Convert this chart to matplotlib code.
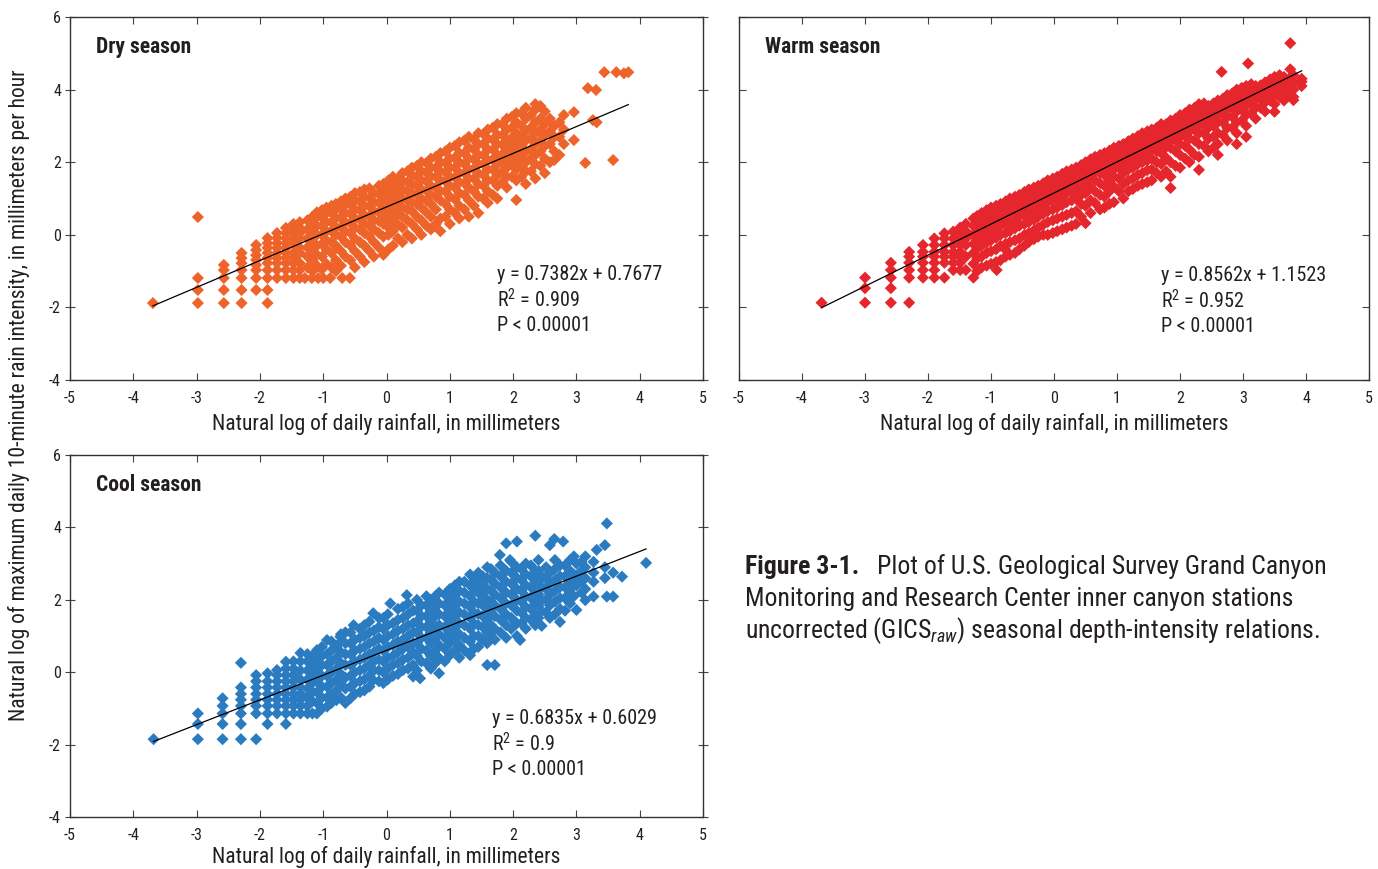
import numpy as np
import matplotlib
matplotlib.use('Agg')
import matplotlib.pyplot as plt

plt.rcParams['font.family'] = ['Roboto Condensed', 'Liberation Sans Narrow', 'Roboto', 'DejaVu Sans']
plt.rcParams['axes.unicode_minus'] = False
plt.rcParams['mathtext.fontset'] = 'custom'
plt.rcParams['mathtext.rm'] = 'Roboto Condensed'
plt.rcParams['mathtext.it'] = 'Roboto Condensed:italic'

# ln(daily rainfall) , ln(max 10-min intensity)
dry_pts = [
    (-3.69, -1.88),
    (-2.98, -1.88), (-2.98, -1.52), (-2.98, -1.19), (-2.98, 0.49),
    (-2.57, -1.88), (-2.57, -1.52), (-2.57, -1.19), (-2.57, -0.97), (-2.57, -0.83),
    (-2.29, -1.88), (-2.29, -1.52), (-2.29, -1.19), (-2.29, -0.97), (-2.29, -0.78), (-2.29, -0.64), (-2.29, -0.50),
    (-2.06, -1.52), (-2.06, -1.19), (-2.06, -0.97), (-2.06, -0.83), (-2.06, -0.69), (-2.06, -0.56), (-2.06, -0.42), (-2.06, -0.28),
    (-1.88, -1.88), (-1.88, -1.52), (-1.88, -1.19), (-1.88, -0.97), (-1.88, -0.78), (-1.88, -0.64), (-1.88, -0.50), (-1.88, -0.36), (-1.88, -0.23), (-1.88, -0.09),
    (-1.73, -1.19), (-1.73, -0.97), (-1.73, -0.78), (-1.73, -0.64), (-1.73, -0.50), (-1.73, -0.36), (-1.73, -0.23), (-1.73, -0.09), (-1.73, 0.05),
    (-1.59, -1.19), (-1.59, -0.97), (-1.59, -0.78), (-1.59, -0.64), (-1.59, -0.50), (-1.59, -0.36), (-1.59, -0.23), (-1.59, -0.09), (-1.59, 0.05), (-1.59, 0.19),
    (-1.47, -1.19), (-1.47, -0.97), (-1.47, -0.78), (-1.47, -0.64), (-1.47, -0.50), (-1.47, -0.23), (-1.47, -0.09), (-1.47, 0.05), (-1.47, 0.19), (-1.47, 0.30),
    (-1.37, -1.19), (-1.37, -0.97), (-1.37, -0.78), (-1.37, -0.50), (-1.37, -0.36), (-1.37, -0.09), (-1.37, 0.05), (-1.37, 0.19), (-1.37, 0.35),
    (-1.29, -1.19), (-1.18, -1.19), (-1.08, -1.19), (-1.00, -1.19), (-0.89, -1.19), (-0.70, -1.19), (-0.58, -1.19),
    (-1.25, -0.90), (-1.25, -0.60), (-1.25, -0.35), (-1.25, -0.10), (-1.25, 0.15), (-1.25, 0.40),
    (-1.10, -0.85), (-1.10, -0.55), (-1.10, -0.30), (-1.10, 0.00), (-1.10, 0.25), (-1.10, 0.50), (-1.10, 0.62),
    (-0.95, -0.80), (-0.95, -0.40), (-0.95, -0.15), (-0.95, 0.10), (-0.95, 0.35), (-0.95, 0.60), (-0.95, 0.75),
    (-0.80, -1.00), (-0.80, -0.70), (-0.80, -0.30), (-0.80, 0.00), (-0.80, 0.20), (-0.80, 0.45), (-0.80, 0.70), (-0.80, 0.85),
    (-0.65, -0.60), (-0.65, -0.20), (-0.65, 0.10), (-0.65, 0.35), (-0.65, 0.60), (-0.65, 0.85), (-0.65, 1.00),
    (-0.50, -0.90), (-0.50, -0.45), (-0.50, -0.10), (-0.50, 0.20), (-0.50, 0.45), (-0.50, 0.70), (-0.50, 0.95), (-0.50, 1.15),
    (-0.35, -0.75), (-0.35, -0.30), (-0.35, 0.05), (-0.35, 0.30), (-0.35, 0.55), (-0.35, 0.80), (-0.35, 1.05), (-0.35, 1.25),
    (-0.20, -0.60), (-0.20, -0.20), (-0.20, 0.15), (-0.20, 0.40), (-0.20, 0.65), (-0.20, 0.90), (-0.20, 1.15),
    (-0.05, -0.55), (-0.05, -0.05), (-0.05, 0.30), (-0.05, 0.55), (-0.05, 0.80), (-0.05, 1.05), (-0.05, 1.30), (-0.05, 1.40),
    (0.10, -0.30), (0.10, 0.10), (0.10, 0.40), (0.10, 0.65), (0.10, 0.90), (0.10, 1.15), (0.10, 1.40), (0.10, 1.60),
    (0.25, -0.20), (0.25, 0.20), (0.25, 0.50), (0.25, 0.75), (0.25, 1.00), (0.25, 1.25), (0.25, 1.50), (0.25, 1.70),
    (0.40, -0.10), (0.40, 0.30), (0.40, 0.65), (0.40, 0.90), (0.40, 1.15), (0.40, 1.40), (0.40, 1.65), (0.40, 1.85),
    (0.55, 0.00), (0.55, 0.40), (0.55, 0.75), (0.55, 1.00), (0.55, 1.25), (0.55, 1.50), (0.55, 1.75), (0.55, 2.00),
    (0.70, 0.15), (0.70, 0.50), (0.70, 0.85), (0.70, 1.10), (0.70, 1.35), (0.70, 1.60), (0.70, 1.85), (0.70, 2.10),
    (0.85, 0.10), (0.85, 0.45), (0.85, 0.95), (0.85, 1.20), (0.85, 1.50), (0.85, 1.75), (0.85, 2.00), (0.85, 2.25),
    (1.00, 0.30), (1.00, 0.70), (1.00, 1.05), (1.00, 1.35), (1.00, 1.60), (1.00, 1.85), (1.00, 2.10), (1.00, 2.40),
    (1.15, 0.45), (1.15, 0.80), (1.15, 1.15), (1.15, 1.45), (1.15, 1.70), (1.15, 2.00), (1.15, 2.25), (1.15, 2.55),
    (1.30, 0.50), (1.30, 0.95), (1.30, 1.30), (1.30, 1.55), (1.30, 1.80), (1.30, 2.10), (1.30, 2.40), (1.30, 2.70),
    (1.45, 0.60), (1.45, 1.05), (1.45, 1.40), (1.45, 1.70), (1.45, 1.95), (1.45, 2.20), (1.45, 2.50), (1.45, 2.80),
    (1.60, 0.88), (1.60, 1.20), (1.60, 1.50), (1.60, 1.80), (1.60, 2.05), (1.60, 2.35), (1.60, 2.65), (1.60, 2.90),
    (1.75, 1.00), (1.75, 1.35), (1.75, 1.65), (1.75, 1.95), (1.75, 2.20), (1.75, 2.50), (1.75, 2.75), (1.75, 3.05),
    (1.90, 1.30), (1.90, 1.60), (1.90, 1.85), (1.90, 2.10), (1.90, 2.35), (1.90, 2.60), (1.90, 2.90), (1.90, 3.20),
    (2.05, 0.96), (2.05, 1.50), (2.05, 1.80), (2.05, 2.05), (2.05, 2.30), (2.05, 2.55), (2.05, 2.80), (2.05, 3.10), (2.05, 3.35),
    (2.20, 1.40), (2.20, 1.75), (2.20, 2.00), (2.20, 2.30), (2.20, 2.60), (2.20, 2.85), (2.20, 3.20), (2.20, 3.50),
    (2.35, 1.55), (2.35, 1.95), (2.35, 2.20), (2.35, 2.50), (2.35, 2.80), (2.35, 3.10), (2.35, 3.45), (2.35, 3.60),
    (2.50, 1.70), (2.50, 2.10), (2.50, 2.45), (2.50, 2.75), (2.50, 3.05), (2.50, 3.40),
    (2.65, 2.06), (2.65, 2.30), (2.65, 2.70), (2.65, 3.00),
    (2.80, 2.50), (2.80, 2.90), (2.80, 3.30),
    (2.96, 2.61), (2.96, 3.38), (3.14, 1.98), (3.26, 3.16), (3.32, 3.10), (3.18, 4.04), (3.31, 3.99),
    (3.44, 4.48), (3.63, 4.48), (3.75, 4.45), (3.82, 4.48), (3.58, 2.06),
    # in between the columns above
    (-1.17, -1.00), (-1.17, -0.72), (-1.17, -0.45), (-1.17, -0.20), (-1.17, 0.05), (-1.17, 0.30), (-1.17, 0.50),
    (-1.02, -0.95), (-1.02, -0.60), (-1.02, -0.25), (-1.02, 0.00), (-1.02, 0.25), (-1.02, 0.48), (-1.02, 0.68),
    (-0.87, -0.90), (-0.87, -0.50), (-0.87, -0.20), (-0.87, 0.10), (-0.87, 0.35), (-0.87, 0.60), (-0.87, 0.80),
    (-0.72, -0.85), (-0.72, -0.45), (-0.72, -0.05), (-0.72, 0.22), (-0.72, 0.48), (-0.72, 0.72), (-0.72, 0.92),
    (-0.57, -0.70), (-0.57, -0.30), (-0.57, 0.05), (-0.57, 0.32), (-0.57, 0.58), (-0.57, 0.82), (-0.57, 1.05),
    (-0.42, -0.60), (-0.42, -0.20), (-0.42, 0.15), (-0.42, 0.42), (-0.42, 0.68), (-0.42, 0.92), (-0.42, 1.18),
    (-0.27, -0.45), (-0.27, -0.05), (-0.27, 0.25), (-0.27, 0.50), (-0.27, 0.78), (-0.27, 1.02), (-0.27, 1.28),
    (-0.12, -0.35), (-0.12, 0.05), (-0.12, 0.38), (-0.12, 0.62), (-0.12, 0.88), (-0.12, 1.12), (-0.12, 1.35),
    (0.03, -0.40), (0.03, 0.00), (0.03, 0.20), (0.03, 0.48), (0.03, 0.72), (0.03, 0.98), (0.03, 1.22), (0.03, 1.50),
    (0.18, -0.10), (0.18, 0.28), (0.18, 0.58), (0.18, 0.82), (0.18, 1.08), (0.18, 1.32), (0.18, 1.55),
    (0.33, 0.00), (0.33, 0.40), (0.33, 0.70), (0.33, 0.95), (0.33, 1.20), (0.33, 1.45), (0.33, 1.75),
    (0.48, 0.15), (0.48, 0.50), (0.48, 0.85), (0.48, 1.10), (0.48, 1.35), (0.48, 1.60), (0.48, 1.90),
    (0.63, 0.25), (0.63, 0.62), (0.63, 0.95), (0.63, 1.22), (0.63, 1.48), (0.63, 1.72), (0.63, 1.98),
    (0.78, 0.30), (0.78, 0.70), (0.78, 1.05), (0.78, 1.30), (0.78, 1.60), (0.78, 1.85), (0.78, 2.15),
    (0.93, 0.50), (0.93, 0.85), (0.93, 1.20), (0.93, 1.48), (0.93, 1.72), (0.93, 1.98), (0.93, 2.30),
    (1.08, 0.60), (1.08, 0.98), (1.08, 1.30), (1.08, 1.58), (1.08, 1.85), (1.08, 2.12), (1.08, 2.45),
    (1.23, 0.70), (1.23, 1.10), (1.23, 1.42), (1.23, 1.70), (1.23, 1.95), (1.23, 2.25), (1.23, 2.60),
    (1.38, 0.80), (1.38, 1.20), (1.38, 1.55), (1.38, 1.82), (1.38, 2.08), (1.38, 2.35), (1.38, 2.62),
    (1.53, 1.00), (1.53, 1.35), (1.53, 1.65), (1.53, 1.95), (1.53, 2.20), (1.53, 2.50), (1.53, 2.78),
    (1.68, 1.10), (1.68, 1.50), (1.68, 1.80), (1.68, 2.08), (1.68, 2.35), (1.68, 2.62), (1.68, 2.95),
    (1.83, 1.45), (1.83, 1.75), (1.83, 2.00), (1.83, 2.22), (1.83, 2.48), (1.83, 2.75), (1.83, 3.05),
    (1.98, 1.60), (1.98, 1.95), (1.98, 2.18), (1.98, 2.42), (1.98, 2.68), (1.98, 2.95), (1.98, 3.25),
    (2.13, 1.60), (2.13, 1.90), (2.13, 2.15), (2.13, 2.45), (2.13, 2.72), (2.13, 3.00), (2.13, 3.35),
    (2.28, 1.75), (2.28, 2.10), (2.28, 2.35), (2.28, 2.65), (2.28, 2.95), (2.28, 3.30),
    (2.43, 1.90), (2.43, 2.30), (2.43, 2.60), (2.43, 2.90), (2.43, 3.20), (2.43, 3.55),
    (2.58, 2.00), (2.58, 2.50), (2.58, 2.85), (2.58, 3.20),
    (2.73, 2.20), (2.73, 2.70), (2.73, 3.10),
]

warm_pts = [
    (-3.69, -1.87),
    (-3.00, -1.87), (-3.00, -1.47), (-3.00, -1.18),
    (-2.59, -1.87), (-2.59, -1.47), (-2.59, -1.18), (-2.59, -0.97), (-2.59, -0.77),
    (-2.30, -1.87), (-2.30, -1.18), (-2.30, -0.97), (-2.30, -0.77), (-2.30, -0.60), (-2.30, -0.47),
    (-2.08, -1.18), (-2.08, -0.97), (-2.08, -0.77), (-2.08, -0.60), (-2.08, -0.47), (-2.08, -0.28),
    (-1.90, -1.18), (-1.90, -0.97), (-1.90, -0.77), (-1.90, -0.60), (-1.90, -0.47), (-1.90, -0.28), (-1.90, -0.10),
    (-1.74, -1.18), (-1.74, -0.77), (-1.74, -0.60), (-1.74, -0.47), (-1.74, -0.28), (-1.74, -0.10), (-1.74, 0.04),
    (-1.60, -0.97), (-1.60, -0.77), (-1.60, -0.60), (-1.60, -0.47), (-1.60, -0.28), (-1.60, -0.10), (-1.60, 0.09),
    (-1.49, -0.97), (-1.49, -0.77), (-1.49, -0.60), (-1.49, -0.47), (-1.49, -0.28), (-1.49, -0.10), (-1.49, 0.04), (-1.49, 0.20),
    (-1.40, -0.97), (-1.40, -0.60), (-1.40, -0.28), (-1.40, -0.10), (-1.40, 0.10), (-1.40, 0.30),
    (-1.28, -1.18), (-1.28, -0.80), (-1.28, -0.50), (-1.28, -0.25), (-1.28, 0.00), (-1.28, 0.25), (-1.28, 0.45),
    (-1.15, -0.90), (-1.15, -0.60), (-1.15, -0.30), (-1.15, -0.05), (-1.15, 0.20), (-1.15, 0.45), (-1.15, 0.60),
    (-0.91, -0.97), (-0.78, -0.39),
    (-1.00, -0.80), (-1.00, -0.45), (-1.00, -0.15), (-1.00, 0.10), (-1.00, 0.35), (-1.00, 0.55), (-1.00, 0.75),
    (-0.85, -0.70), (-0.85, -0.30), (-0.85, 0.00), (-0.85, 0.25), (-0.85, 0.45), (-0.85, 0.70), (-0.85, 0.85),
    (-0.70, -0.55), (-0.70, -0.20), (-0.70, 0.10), (-0.70, 0.35), (-0.70, 0.60), (-0.70, 0.80), (-0.70, 1.00),
    (-0.55, -0.40), (-0.55, -0.10), (-0.55, 0.25), (-0.55, 0.50), (-0.55, 0.70), (-0.55, 0.95), (-0.55, 1.10),
    (-0.40, -0.20), (-0.40, 0.05), (-0.40, 0.35), (-0.40, 0.60), (-0.40, 0.85), (-0.40, 1.05), (-0.40, 1.25),
    (-0.25, -0.05), (-0.25, 0.20), (-0.25, 0.50), (-0.25, 0.75), (-0.25, 1.00), (-0.25, 1.20), (-0.25, 1.35),
    (-0.10, 0.00), (-0.10, 0.35), (-0.10, 0.65), (-0.10, 0.90), (-0.10, 1.10), (-0.10, 1.30), (-0.10, 1.50),
    (0.05, 0.10), (0.05, 0.45), (0.05, 0.75), (0.05, 1.00), (0.05, 1.25), (0.05, 1.45), (0.05, 1.60),
    (0.20, 0.20), (0.20, 0.55), (0.20, 0.90), (0.20, 1.15), (0.20, 1.35), (0.20, 1.55), (0.20, 1.75),
    (0.35, 0.30), (0.35, 0.65), (0.35, 1.00), (0.35, 1.25), (0.35, 1.50), (0.35, 1.70), (0.35, 1.85),
    (0.50, 0.32), (0.50, 0.80), (0.50, 1.15), (0.50, 1.40), (0.50, 1.60), (0.50, 1.80), (0.50, 2.00),
    (0.65, 0.88), (0.65, 1.20), (0.65, 1.50), (0.65, 1.75), (0.65, 1.95), (0.65, 2.15),
    (0.80, 0.75), (0.80, 1.05), (0.80, 1.35), (0.80, 1.65), (0.80, 1.85), (0.80, 2.05), (0.80, 2.25),
    (0.95, 0.90), (0.95, 1.33), (0.95, 1.60), (0.95, 1.80), (0.95, 2.00), (0.95, 2.20), (0.95, 2.40),
    (1.10, 1.00), (1.10, 1.40), (1.10, 1.70), (1.10, 1.95), (1.10, 2.15), (1.10, 2.35), (1.10, 2.50),
    (1.25, 1.26), (1.25, 1.55), (1.25, 1.85), (1.25, 2.05), (1.25, 2.25), (1.25, 2.45), (1.25, 2.65),
    (1.40, 1.40), (1.40, 1.70), (1.40, 2.00), (1.40, 2.20), (1.40, 2.40), (1.40, 2.60), (1.40, 2.80),
    (1.55, 1.50), (1.55, 1.80), (1.55, 2.10), (1.55, 2.35), (1.55, 2.55), (1.55, 2.75), (1.55, 2.90),
    (1.70, 1.60), (1.70, 1.95), (1.70, 2.25), (1.70, 2.45), (1.70, 2.65), (1.70, 2.85), (1.70, 3.05),
    (1.85, 1.29), (1.85, 1.60), (1.85, 2.00), (1.85, 2.40), (1.85, 2.60), (1.85, 2.80), (1.85, 3.00), (1.85, 3.15),
    (2.00, 1.85), (2.00, 2.20), (2.00, 2.50), (2.00, 2.70), (2.00, 2.90), (2.00, 3.10), (2.00, 3.30),
    (2.15, 2.00), (2.15, 2.35), (2.15, 2.65), (2.15, 2.85), (2.15, 3.05), (2.15, 3.25), (2.15, 3.45),
    (2.30, 1.79), (2.30, 2.15), (2.30, 2.50), (2.30, 2.80), (2.30, 3.00), (2.30, 3.20), (2.30, 3.40), (2.30, 3.60),
    (2.45, 2.30), (2.45, 2.65), (2.45, 2.95), (2.45, 3.15), (2.45, 3.35), (2.45, 3.55),
    (2.60, 2.20), (2.60, 2.50), (2.60, 2.80), (2.60, 3.10), (2.60, 3.30), (2.60, 3.50), (2.60, 3.70),
    (2.75, 2.60), (2.75, 2.95), (2.75, 3.25), (2.75, 3.45), (2.75, 3.65), (2.75, 3.85),
    (2.90, 2.50), (2.90, 2.80), (2.90, 3.10), (2.90, 3.40), (2.90, 3.60), (2.90, 3.80), (2.90, 4.00),
    (3.05, 2.70), (3.05, 3.00), (3.05, 3.30), (3.05, 3.55), (3.05, 3.75), (3.05, 3.95), (3.05, 4.10),
    (3.20, 3.20), (3.20, 3.50), (3.20, 3.70), (3.20, 3.90), (3.20, 4.10),
    (3.35, 3.40), (3.35, 3.65), (3.35, 3.85), (3.35, 4.05), (3.35, 4.20),
    (3.50, 3.39), (3.50, 3.60), (3.50, 3.85), (3.50, 4.00), (3.50, 4.20), (3.50, 4.35),
    (3.65, 3.70), (3.65, 3.95), (3.65, 4.15), (3.65, 4.35),
    (3.80, 3.71), (3.80, 3.80), (3.80, 4.00), (3.80, 4.20), (3.80, 4.40),
    (3.93, 4.22), (3.93, 4.10), (3.93, 4.30),
    (3.75, 5.28), (3.08, 4.72), (2.66, 4.49), (3.75, 4.56),
    # in between the columns above
    (-1.22, -1.00), (-1.22, -0.65), (-1.22, -0.38), (-1.22, -0.12), (-1.22, 0.12), (-1.22, 0.35), (-1.22, 0.52),
    (-1.07, -0.85), (-1.07, -0.50), (-1.07, -0.22), (-1.07, 0.05), (-1.07, 0.28), (-1.07, 0.50), (-1.07, 0.68),
    (-0.92, -0.75), (-0.92, -0.40), (-0.92, -0.08), (-0.92, 0.18), (-0.92, 0.40), (-0.92, 0.62), (-0.92, 0.80),
    (-0.77, -0.60), (-0.77, -0.25), (-0.77, 0.05), (-0.77, 0.30), (-0.77, 0.52), (-0.77, 0.75), (-0.77, 0.92),
    (-0.62, -0.50), (-0.62, -0.15), (-0.62, 0.18), (-0.62, 0.42), (-0.62, 0.65), (-0.62, 0.88), (-0.62, 1.05),
    (-0.47, -0.30), (-0.47, 0.00), (-0.47, 0.30), (-0.47, 0.55), (-0.47, 0.78), (-0.47, 1.00), (-0.47, 1.18),
    (-0.32, -0.12), (-0.32, 0.12), (-0.32, 0.42), (-0.32, 0.68), (-0.32, 0.92), (-0.32, 1.12), (-0.32, 1.30),
    (-0.17, 0.00), (-0.17, 0.28), (-0.17, 0.58), (-0.17, 0.82), (-0.17, 1.05), (-0.17, 1.25), (-0.17, 1.42),
    (-0.02, 0.05), (-0.02, 0.40), (-0.02, 0.70), (-0.02, 0.95), (-0.02, 1.18), (-0.02, 1.38), (-0.02, 1.55),
    (0.13, 0.15), (0.13, 0.50), (0.13, 0.82), (0.13, 1.08), (0.13, 1.30), (0.13, 1.50), (0.13, 1.68),
    (0.28, 0.25), (0.28, 0.60), (0.28, 0.95), (0.28, 1.20), (0.28, 1.42), (0.28, 1.62), (0.28, 1.80),
    (0.43, 0.50), (0.43, 0.85), (0.43, 1.10), (0.43, 1.35), (0.43, 1.55), (0.43, 1.75), (0.43, 1.92),
    (0.58, 0.60), (0.58, 0.95), (0.58, 1.30), (0.58, 1.55), (0.58, 1.75), (0.58, 1.95), (0.58, 2.08),
    (0.73, 0.70), (0.73, 1.10), (0.73, 1.42), (0.73, 1.70), (0.73, 1.90), (0.73, 2.10), (0.73, 2.20),
    (0.88, 0.85), (0.88, 1.20), (0.88, 1.50), (0.88, 1.75), (0.88, 1.95), (0.88, 2.15), (0.88, 2.32),
    (1.03, 1.20), (1.03, 1.55), (1.03, 1.85), (1.03, 2.05), (1.03, 2.25), (1.03, 2.45),
    (1.18, 1.20), (1.18, 1.50), (1.18, 1.80), (1.18, 2.02), (1.18, 2.22), (1.18, 2.42), (1.18, 2.58),
    (1.33, 1.35), (1.33, 1.65), (1.33, 1.95), (1.33, 2.15), (1.33, 2.35), (1.33, 2.55), (1.33, 2.72),
    (1.48, 1.45), (1.48, 1.78), (1.48, 2.05), (1.48, 2.30), (1.48, 2.50), (1.48, 2.68), (1.48, 2.85),
    (1.63, 1.70), (1.63, 2.00), (1.63, 2.30), (1.63, 2.52), (1.63, 2.72), (1.63, 2.95),
    (1.78, 1.75), (1.78, 2.12), (1.78, 2.42), (1.78, 2.62), (1.78, 2.82), (1.78, 3.05),
    (1.93, 1.90), (1.93, 2.30), (1.93, 2.60), (1.93, 2.80), (1.93, 3.00), (1.93, 3.20),
    (2.08, 2.10), (2.08, 2.45), (2.08, 2.72), (2.08, 2.95), (2.08, 3.15), (2.08, 3.35),
    (2.23, 2.20), (2.23, 2.60), (2.23, 2.90), (2.23, 3.12), (2.23, 3.32), (2.23, 3.50),
    (2.38, 2.45), (2.38, 2.80), (2.38, 3.05), (2.38, 3.25), (2.38, 3.45), (2.38, 3.62),
    (2.53, 2.40), (2.53, 2.70), (2.53, 3.00), (2.53, 3.22), (2.53, 3.42), (2.53, 3.62),
    (2.68, 2.75), (2.68, 3.10), (2.68, 3.35), (2.68, 3.55), (2.68, 3.75),
    (2.83, 2.95), (2.83, 3.25), (2.83, 3.50), (2.83, 3.70), (2.83, 3.90),
    (2.98, 3.15), (2.98, 3.45), (2.98, 3.65), (2.98, 3.85), (2.98, 4.05),
    (3.13, 3.35), (3.13, 3.60), (3.13, 3.80), (3.13, 4.00), (3.13, 4.15),
    (3.28, 3.50), (3.28, 3.75), (3.28, 3.95), (3.28, 4.12),
    (3.43, 3.70), (3.43, 3.95), (3.43, 4.10), (3.43, 4.28),
    (3.58, 3.80), (3.58, 4.05), (3.58, 4.25), (3.58, 4.40),
    (3.73, 3.85), (3.73, 4.10), (3.73, 4.30),
]

cool_pts = [
    (-3.68, -1.85),
    (-2.98, -1.85), (-2.98, -1.43), (-2.98, -1.14),
    (-2.59, -1.85), (-2.59, -1.43), (-2.59, -1.14), (-2.59, -0.93), (-2.59, -0.72),
    (-2.30, -1.85), (-2.30, -1.43), (-2.30, -1.14), (-2.30, -0.93), (-2.30, -0.76), (-2.30, -0.60), (-2.30, -0.42), (-2.30, 0.26),
    (-2.06, -1.85), (-2.06, -1.14), (-2.06, -0.93), (-2.06, -0.76), (-2.06, -0.60), (-2.06, -0.42), (-2.06, -0.25), (-2.06, -0.08),
    (-1.88, -1.43), (-1.88, -1.14), (-1.88, -0.93), (-1.88, -0.76), (-1.88, -0.60), (-1.88, -0.42), (-1.88, -0.25), (-1.88, -0.03),
    (-1.73, -1.14), (-1.73, -0.93), (-1.73, -0.76), (-1.73, -0.60), (-1.73, -0.42), (-1.73, -0.25), (-1.73, -0.08), (-1.73, 0.06),
    (-1.59, -1.43), (-1.59, -1.14), (-1.59, -0.93), (-1.59, -0.76), (-1.59, -0.60), (-1.59, -0.42), (-1.59, -0.25), (-1.59, -0.08), (-1.59, 0.10), (-1.59, 0.29),
    (-1.47, -1.14), (-1.47, -0.93), (-1.47, -0.76), (-1.47, -0.60), (-1.47, -0.42), (-1.47, -0.25), (-1.47, -0.08), (-1.47, 0.10), (-1.47, 0.30),
    (-1.36, -1.14), (-1.36, -0.93), (-1.36, -0.76), (-1.36, -0.60), (-1.36, -0.42), (-1.36, -0.20), (-1.36, 0.05), (-1.36, 0.30), (-1.36, 0.53),
    (-1.25, -1.14), (-1.25, -0.93), (-1.25, -0.70), (-1.25, -0.45), (-1.25, -0.20), (-1.25, 0.05), (-1.25, 0.30), (-1.25, 0.50),
    (-1.17, -1.14), (-1.17, -0.80), (-1.17, -0.55), (-1.17, -0.30), (-1.17, -0.05), (-1.17, 0.20), (-1.17, 0.45),
    (-1.10, -1.14), (-1.10, -0.85), (-1.10, -0.55), (-1.10, -0.25), (-1.10, 0.05), (-1.10, 0.35), (-1.10, 0.61),
    (-0.94, -0.95), (-0.94, -0.70), (-0.94, -0.40), (-0.94, -0.10), (-0.94, 0.20), (-0.94, 0.50), (-0.94, 0.89),
    (-0.79, -0.77), (-0.79, -0.50), (-0.79, -0.20), (-0.79, 0.10), (-0.79, 0.40), (-0.79, 0.70), (-0.73, 0.98),
    (-0.65, -0.85), (-0.65, -0.45), (-0.65, -0.15), (-0.65, 0.20), (-0.65, 0.50), (-0.65, 0.80), (-0.65, 1.10),
    (-0.50, -0.60), (-0.50, -0.30), (-0.50, 0.00), (-0.50, 0.30), (-0.50, 0.60), (-0.50, 0.90), (-0.52, 1.30),
    (-0.35, -0.50), (-0.35, -0.20), (-0.35, 0.10), (-0.35, 0.40), (-0.35, 0.70), (-0.35, 1.00), (-0.35, 1.30),
    (-0.21, -0.22), (-0.20, 0.05), (-0.20, 0.30), (-0.20, 0.55), (-0.20, 0.85), (-0.20, 1.15), (-0.21, 1.63),
    (-0.05, -0.30), (-0.05, 0.00), (-0.05, 0.30), (-0.05, 0.60), (-0.05, 0.90), (-0.05, 1.20), (-0.05, 1.50),
    (0.10, -0.10), (0.10, 0.20), (0.10, 0.45), (0.10, 0.75), (0.10, 1.05), (0.10, 1.35), (0.06, 1.90),
    (0.26, 0.06), (0.26, 0.35), (0.26, 0.65), (0.26, 0.90), (0.26, 1.20), (0.26, 1.50), (0.26, 1.80),
    (0.42, -0.12), (0.42, 0.20), (0.42, 0.55), (0.42, 0.80), (0.42, 1.10), (0.42, 1.35), (0.42, 1.70), (0.32, 2.13),
    (0.53, -0.17), (0.55, 0.30), (0.55, 0.65), (0.55, 0.95), (0.55, 1.25), (0.55, 1.55), (0.55, 1.85),
    (0.70, 0.10), (0.70, 0.45), (0.70, 0.80), (0.70, 1.10), (0.70, 1.40), (0.70, 1.70), (0.70, 2.00),
    (0.83, -0.03), (0.83, 0.40), (0.83, 0.75), (0.83, 1.05), (0.83, 1.30), (0.83, 1.60), (0.83, 1.90), (0.83, 2.20),
    (1.00, 0.47), (1.00, 0.80), (1.00, 1.10), (1.00, 1.40), (1.00, 1.70), (1.00, 2.00), (1.00, 2.30),
    (1.15, 0.40), (1.15, 0.75), (1.15, 1.05), (1.15, 1.35), (1.15, 1.65), (1.15, 1.95), (1.15, 2.25), (1.15, 2.50),
    (1.32, 0.47), (1.32, 0.85), (1.32, 1.20), (1.32, 1.50), (1.32, 1.80), (1.32, 2.10), (1.32, 2.40), (1.32, 2.70),
    (1.45, 0.70), (1.45, 1.00), (1.45, 1.30), (1.45, 1.60), (1.45, 1.90), (1.45, 2.20), (1.45, 2.50), (1.45, 2.75),
    (1.59, 0.20), (1.59, 0.80), (1.59, 1.10), (1.59, 1.45), (1.59, 1.75), (1.59, 2.00), (1.59, 2.30), (1.59, 2.60), (1.59, 2.90),
    (1.71, 0.20), (1.71, 0.90), (1.71, 1.20), (1.71, 1.55), (1.71, 1.85), (1.71, 2.15), (1.71, 2.45), (1.71, 2.75),
    (1.79, 3.24), (1.95, 3.10),
    (1.89, 0.95), (1.89, 1.30), (1.89, 1.60), (1.89, 1.90), (1.89, 2.20), (1.89, 2.50), (1.89, 2.80), (1.89, 3.56),
    (2.06, 1.00), (2.06, 1.35), (2.06, 1.70), (2.06, 2.00), (2.06, 2.30), (2.06, 2.60), (2.06, 2.90), (2.06, 3.61),
    (2.11, 0.89),
    (2.20, 1.20), (2.20, 1.50), (2.20, 1.80), (2.20, 2.10), (2.20, 2.40), (2.20, 2.70), (2.20, 3.00),
    (2.35, 1.30), (2.35, 1.60), (2.35, 1.90), (2.35, 2.20), (2.35, 2.50), (2.35, 2.80), (2.35, 3.77),
    (2.45, 1.28), (2.45, 1.70), (2.45, 2.00), (2.45, 2.35), (2.45, 2.65),
    (2.58, 1.50), (2.58, 1.85), (2.58, 2.15), (2.58, 2.45), (2.58, 2.75), (2.58, 3.51),
    (2.65, 3.68), (2.79, 3.61),
    (2.74, 1.39), (2.74, 1.75), (2.74, 2.05), (2.74, 2.35), (2.74, 2.65), (2.74, 2.95),
    (2.90, 1.90), (2.90, 2.20), (2.90, 2.50), (2.90, 2.80), (2.90, 3.10),
    (3.00, 1.72), (3.00, 2.40), (3.00, 2.65), (3.00, 3.00),
    (3.14, 1.99), (3.14, 2.30), (3.14, 2.60), (3.14, 2.90), (3.14, 3.20),
    (3.27, 2.09), (3.27, 2.50), (3.27, 2.75), (3.27, 3.05), (3.32, 3.38),
    (3.45, 3.51), (3.45, 2.90), (3.45, 2.60), (3.48, 2.09), (3.48, 4.11),
    (3.58, 2.09), (3.58, 2.75), (3.72, 2.64), (4.10, 3.02),
    # in between the columns above
    (-1.02, -1.00), (-1.02, -0.70), (-1.02, -0.40), (-1.02, -0.10), (-1.02, 0.20), (-1.02, 0.45), (-1.02, 0.70),
    (-0.87, -0.85), (-0.87, -0.60), (-0.87, -0.30), (-0.87, 0.00), (-0.87, 0.30), (-0.87, 0.60), (-0.87, 0.85),
    (-0.72, -0.70), (-0.72, -0.35), (-0.72, -0.05), (-0.72, 0.25), (-0.72, 0.55), (-0.72, 0.85), (-0.72, 1.05),
    (-0.57, -0.72), (-0.57, -0.40), (-0.57, -0.10), (-0.57, 0.20), (-0.57, 0.50), (-0.57, 0.80), (-0.57, 1.10),
    (-0.42, -0.55), (-0.42, -0.25), (-0.42, 0.05), (-0.42, 0.35), (-0.42, 0.65), (-0.42, 0.95), (-0.42, 1.20),
    (-0.27, -0.40), (-0.27, -0.10), (-0.27, 0.20), (-0.27, 0.50), (-0.27, 0.80), (-0.27, 1.10), (-0.27, 1.40),
    (-0.12, -0.25), (-0.12, 0.05), (-0.12, 0.35), (-0.12, 0.65), (-0.12, 0.95), (-0.12, 1.25), (-0.12, 1.50),
    (0.02, -0.20), (0.02, 0.10), (0.02, 0.40), (0.02, 0.70), (0.02, 1.00), (0.02, 1.30), (0.02, 1.60),
    (0.18, -0.05), (0.18, 0.25), (0.18, 0.55), (0.18, 0.85), (0.18, 1.15), (0.18, 1.45), (0.18, 1.75),
    (0.34, 0.10), (0.34, 0.40), (0.34, 0.70), (0.34, 1.00), (0.34, 1.30), (0.34, 1.60), (0.34, 1.90),
    (0.48, 0.05), (0.48, 0.45), (0.48, 0.80), (0.48, 1.10), (0.48, 1.40), (0.48, 1.70), (0.48, 2.00),
    (0.63, 0.25), (0.63, 0.60), (0.63, 0.95), (0.63, 1.25), (0.63, 1.55), (0.63, 1.85), (0.63, 2.10),
    (0.77, 0.25), (0.77, 0.60), (0.77, 0.95), (0.77, 1.25), (0.77, 1.55), (0.77, 1.80), (0.77, 2.10),
    (0.92, 0.30), (0.92, 0.65), (0.92, 0.95), (0.92, 1.25), (0.92, 1.55), (0.92, 1.85), (0.92, 2.15),
    (1.08, 0.60), (1.08, 0.95), (1.08, 1.25), (1.08, 1.55), (1.08, 1.85), (1.08, 2.15), (1.08, 2.40),
    (1.23, 0.60), (1.23, 0.95), (1.23, 1.30), (1.23, 1.60), (1.23, 1.90), (1.23, 2.20), (1.23, 2.50),
    (1.38, 0.65), (1.38, 1.00), (1.38, 1.35), (1.38, 1.65), (1.38, 1.95), (1.38, 2.30), (1.38, 2.60),
    (1.52, 0.90), (1.52, 1.25), (1.52, 1.55), (1.52, 1.85), (1.52, 2.10), (1.52, 2.40), (1.52, 2.65),
    (1.65, 1.00), (1.65, 1.30), (1.65, 1.65), (1.65, 1.95), (1.65, 2.25), (1.65, 2.55), (1.65, 2.85),
    (1.80, 1.10), (1.80, 1.45), (1.80, 1.75), (1.80, 2.05), (1.80, 2.35), (1.80, 2.65), (1.80, 2.95),
    (1.97, 1.20), (1.97, 1.50), (1.97, 1.85), (1.97, 2.15), (1.97, 2.45), (1.97, 2.75), (1.97, 3.05),
    (2.13, 1.35), (2.13, 1.65), (2.13, 1.95), (2.13, 2.25), (2.13, 2.55), (2.13, 2.85),
    (2.28, 1.45), (2.28, 1.75), (2.28, 2.05), (2.28, 2.35), (2.28, 2.65), (2.28, 2.95),
    (2.40, 1.50), (2.40, 1.85), (2.40, 2.15), (2.40, 2.50), (2.40, 2.80), (2.40, 3.10),
    (2.52, 1.65), (2.52, 2.00), (2.52, 2.30), (2.52, 2.60), (2.52, 2.90),
    (2.66, 1.60), (2.66, 1.95), (2.66, 2.25), (2.66, 2.55), (2.66, 2.85), (2.66, 3.10),
    (2.82, 1.70), (2.82, 2.05), (2.82, 2.35), (2.82, 2.65), (2.82, 2.95),
    (2.96, 2.10), (2.96, 2.40), (2.96, 2.70), (2.96, 3.20),
    (3.08, 2.20), (3.08, 2.50), (3.08, 2.80), (3.08, 3.05),
]

# regression fits printed on the chart
seasons = ['Dry season', 'Warm season', 'Cool season']
slopes = [0.7382, 0.8562, 0.6835]
intercepts = [0.7677, 1.1523, 0.6029]
r2_text = ['0.909', '0.952', '0.9']
colors = ['#EE6329', '#E5262D', '#2B7BC1']

fig = plt.figure(figsize=(13.78, 8.69), dpi=100)
boxes = [
    [0.0508, 0.5627, 0.4594, 0.4177],
    [0.5363, 0.5627, 0.4572, 0.4177],
    [0.0508, 0.0598, 0.4594, 0.4166],
]
txt_y = [0.292, 0.289, 0.273]
txt_x = [0.6746, 0.670, 0.667]
xlab_pad = [5, 5, 2]
all_pts = [dry_pts, warm_pts, cool_pts]
ink = '#231F20'

for i in range(3):
    ax = fig.add_axes(boxes[i])
    pts = np.array(all_pts[i])
    ax.scatter(pts[:, 0], pts[:, 1], marker='D', s=38, color=colors[i],
               edgecolors='none', zorder=2)
    xl = np.array([pts[:, 0].min(), pts[:, 0].max()])
    ax.plot(xl, slopes[i] * xl + intercepts[i], color='black', lw=0.9, zorder=3)

    ax.set_xlim(-5, 5)
    ax.set_ylim(-4, 6)
    ax.set_xticks(range(-5, 6))
    ax.set_yticks(range(-4, 7, 2))
    ax.tick_params(axis='x', direction='in', length=5, labelsize=11.5,
                   top=True, color='#444444', labelcolor=ink, pad=8)
    ax.tick_params(axis='y', direction='inout', length=7, labelsize=11.5,
                   right=True, color='#444444', labelcolor=ink, pad=3)
    if i == 1:
        ax.tick_params(axis='y', labelleft=False, direction='in', length=5)
    for sp in ax.spines.values():
        sp.set_color('#333333')
        sp.set_linewidth(1.0)

    ax.set_xlabel('Natural log of daily rainfall, in millimeters',
                  fontsize=15.5, color=ink, labelpad=xlab_pad[i])
    ax.text(0.041, 0.917, seasons[i], transform=ax.transAxes, fontsize=15.5,
            fontweight='bold', color=ink, va='center')
    ax.text(txt_x[i], txt_y[i], f'y = {slopes[i]}x + {intercepts[i]}',
            transform=ax.transAxes, fontsize=14.5, color=ink, va='center')
    ax.text(txt_x[i], txt_y[i] - 0.071, r'R$^2$ = ' + r2_text[i],
            transform=ax.transAxes, fontsize=14.5, color=ink, va='center')
    ax.text(txt_x[i], txt_y[i] - 0.142, 'P < 0.00001',
            transform=ax.transAxes, fontsize=14.5, color=ink, va='center')

fig.text(0.0135, 0.545,
         'Natural log of maximum daily 10-minute rain intensity, in millimeters per hour',
         rotation=90, ha='center', va='center', fontsize=15.5, color=ink)

fig.text(745 / 1378, 1 - 567 / 869, 'Figure 3-1.', fontsize=18.5, fontweight='bold',
         color=ink, va='center')
fig.text(877 / 1378, 1 - 567 / 869, 'Plot of U.S. Geological Survey Grand Canyon',
         fontsize=18.5, color=ink, va='center')
fig.text(745 / 1378, 1 - 599 / 869,
         'Monitoring and Research Center inner canyon stations',
         fontsize=18.5, color=ink, va='center')
fig.text(745 / 1378, 1 - 631 / 869,
         r'uncorrected (GICS$_{\mathit{raw}}$) seasonal depth-intensity relations.',
         fontsize=18.5, color=ink, va='center')

fig.savefig('out.png', dpi=100)
